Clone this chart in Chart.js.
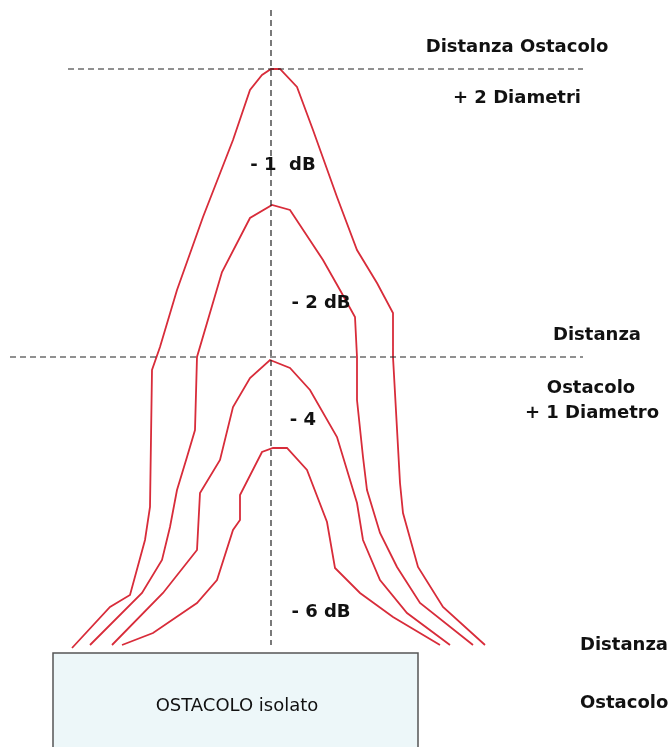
<!DOCTYPE html>
<html>
<head>
<meta charset="utf-8">
<script src="https://cdn.jsdelivr.net/npm/chart.js@4"></script>
<style>
  body { margin: 0; background: #fff; }
  canvas { display: block; }
</style>
</head>
<body>
<canvas id="diagram" width="668" height="747"></canvas>
<script>
// x = offset from the obstacle axis, y = height above the obstacle
const curveLabels = ['- 1  dB', '- 2 dB', '- 4', '- 6 dB'];

const curve1 = [[-199,7],[-161,48],[-141,60],[-126,115],[-121,148],[-119,285],[-111,308],[-94,365],
    [-68,438],[-38,515],[-21,565],[-9,580],[0,586],[9,586],[26,568],[42,525],[66,458],[86,405],
    [106,372],[122,342],[122,298],[129,172],[132,142],[147,88],[172,48],[214,10]];
const curve2 = [[-181,10],[-129,62],[-109,95],[-101,128],[-94,165],[-84,198],[-76,225],[-74,298],
    [-49,383],[-21,437],[1,450],[19,445],[52,395],[69,365],[84,338],[86,298],[86,255],[92,198],
    [96,165],[109,122],[126,88],[149,52],[202,10]];
const curve3 = [[-159,10],[-108,62],[-74,105],[-71,162],[-51,195],[-38,248],[-21,277],[-1,295],
    [19,287],[39,265],[66,218],[86,152],[92,115],[109,75],[136,42],[179,10]];
const curve4 = [[-149,10],[-118,22],[-74,52],[-54,75],[-38,125],[-31,135],[-31,160],[-9,203],
    [2,207],[16,207],[36,185],[56,133],[64,87],[89,62],[122,38],[169,10]];

const level2Diam = 586;   // distanza ostacolo + 2 diametri
const level1Diam = 298;   // distanza ostacolo + 1 diametro
const obstacle = { left: -218, right: 147, top: 2, bottom: -130 };

const notes = [
    { text: 'Distanza Ostacolo', x: 246, y: 608, bold: true },
    { text: '+ 2 Diametri', x: 246, y: 557, bold: true },
    { text: 'Distanza', x: 326, y: 320, bold: true },
    { text: 'Ostacolo', x: 320, y: 267, bold: true },
    { text: '+ 1 Diametro', x: 321, y: 242, bold: true },
    { text: 'Distanza', x: 309, y: 10, bold: true, align: 'left' },
    { text: 'Ostacolo', x: 309, y: -48, bold: true, align: 'left' },
    { text: curveLabels[0], x: 12, y: 490, bold: true },
    { text: curveLabels[1], x: 50, y: 352, bold: true },
    { text: curveLabels[2], x: 32, y: 235, bold: true },
    { text: curveLabels[3], x: 50, y: 43, bold: true },
    { text: 'OSTACOLO isolato', x: -34, y: -51, bold: false }
];

const toXY = pts => pts.map(p => ({ x: p[0], y: p[1] }));
const red = 'rgb(216,44,58)';

const curveSet = (pts, label) => ({
    label, data: toXY(pts), showLine: true, borderColor: red, borderWidth: 1.8,
    pointRadius: 0, tension: 0
});
const dashSet = (pts) => ({
    data: toXY(pts), showLine: true, borderColor: '#222', borderWidth: 1.2,
    borderDash: [6, 4], pointRadius: 0
});

const decor = {
    id: 'decor',
    beforeDatasetsDraw(chart) {
        const { ctx, scales: { x, y } } = chart;
        const l = x.getPixelForValue(obstacle.left), r = x.getPixelForValue(obstacle.right);
        const t = y.getPixelForValue(obstacle.top), b = y.getPixelForValue(obstacle.bottom);
        ctx.save();
        ctx.fillStyle = '#edf7f9';
        ctx.fillRect(l, t, r - l, b - t);
        ctx.strokeStyle = '#555';
        ctx.lineWidth = 1.5;
        ctx.strokeRect(l, t, r - l, b - t);
        ctx.restore();
    },
    afterDatasetsDraw(chart) {
        const { ctx, scales: { x, y } } = chart;
        ctx.save();
        ctx.fillStyle = '#111';
        ctx.textBaseline = 'middle';
        notes.forEach(n => {
            ctx.font = n.bold ? 'bold 18px "DejaVu Sans"' : '18px "DejaVu Sans"';
            ctx.textAlign = n.align || 'center';
            ctx.fillText(n.text, x.getPixelForValue(n.x), y.getPixelForValue(n.y));
        });
        ctx.restore();
    }
};

new Chart(document.getElementById('diagram'), {
    type: 'scatter',
    data: {
        datasets: [
            dashSet([[-203, level2Diam], [312, level2Diam]]),
            dashSet([[-261, level1Diam], [312, level1Diam]]),
            dashSet([[0, 645], [0, 10]]),
            curveSet(curve1, curveLabels[0]),
            curveSet(curve2, curveLabels[1]),
            curveSet(curve3, curveLabels[2]),
            curveSet(curve4, curveLabels[3])
        ]
    },
    options: {
        responsive: false,
        animation: false,
        layout: { padding: 0 },
        plugins: { legend: { display: false }, tooltip: { enabled: false } },
        scales: {
            x: { type: 'linear', min: -271, max: 397, display: false },
            y: { type: 'linear', min: -92, max: 655, display: false }
        }
    },
    plugins: [decor]
});
</script>
</body>
</html>
